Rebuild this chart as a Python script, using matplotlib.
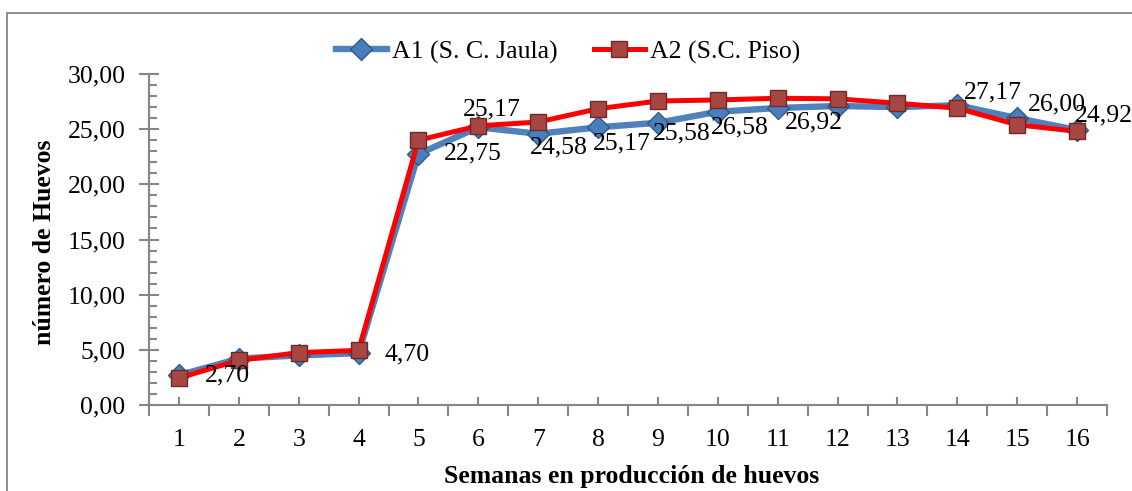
import matplotlib
matplotlib.use("Agg")
import matplotlib.pyplot as plt
from matplotlib.patches import Rectangle
from matplotlib.ticker import MultipleLocator, FixedLocator, FuncFormatter

plt.rcParams['font.family'] = ['Liberation Serif', 'DejaVu Serif']

# Weekly egg counts for the two housing systems
semanas = list(range(1, 17))
a1_jaula = [2.70, 4.20, 4.50, 4.70, 22.75, 25.17, 24.58, 25.17,
            25.58, 26.58, 26.92, 27.10, 27.00, 27.17, 26.00, 24.92]
a2_piso = [2.45, 4.05, 4.75, 4.95, 24.00, 25.30, 25.65, 26.85,
           27.55, 27.65, 27.80, 27.75, 27.35, 26.90, 25.40, 24.80]

serie_a1 = "A1 (S. C. Jaula)"
serie_a2 = "A2 (S.C. Piso)"
titulo_x = "Semanas en producción de huevos"
titulo_y = "número de Huevos"

# Weeks that carry a value label for A1, with the label offset in pixels
etiquetas_a1 = {1: (26, 0, 'left'), 4: (26, -1, 'left'), 5: (25, 1, 'left'),
                6: (13, 18, 'center'), 7: (21, -14, 'center'),
                8: (24, -16, 'center'), 9: (24, -11, 'center'),
                10: (22, -16, 'center'), 11: (36, -14, 'center'),
                14: (36, 13, 'center'), 15: (40, 14, 'center'),
                16: (27, 15, 'center')}

FS = 18.5
gris = '#868686'

fig = plt.figure(figsize=(11.32, 4.91), dpi=100)
ax = fig.add_axes([149 / 1132, 1 - 405 / 491, (1107 - 149) / 1132, (405 - 74) / 491])

# outer chart border
fig.patches.append(Rectangle((7 / 1132, -0.05), 1.2, 1 - 13 / 491 + 0.05,
                             transform=fig.transFigure, fill=False,
                             edgecolor=gris, linewidth=1.3))

ax.plot(semanas, a1_jaula, color='#4F81BD', linewidth=4.6, marker='D',
        markersize=11.5, markerfacecolor='#4A7EBB', markeredgecolor='#2E5A8A',
        markeredgewidth=1.0, label=serie_a1, zorder=3)
ax.plot(semanas, a2_piso, color='#FF0000', linewidth=3.6, marker='s',
        markersize=11, markerfacecolor='#A84643', markeredgecolor='#6E2A28',
        markeredgewidth=1.0, label=serie_a2, zorder=4)

for semana, (dx, dy, ha) in etiquetas_a1.items():
    valor = a1_jaula[semana - 1]
    ax.annotate(f"{valor:.2f}".replace('.', ','), (semana, valor),
                xytext=(dx * 0.72, dy * 0.72), textcoords='offset points',
                ha=ha, va='center', fontsize=FS, zorder=6)

ax.set_xlim(0.5, 16.5)
ax.set_ylim(0, 30)

for lado in ('top', 'right'):
    ax.spines[lado].set_visible(False)
for lado in ('left', 'bottom'):
    ax.spines[lado].set_color(gris)
    ax.spines[lado].set_linewidth(1.5)

ax.yaxis.set_major_locator(MultipleLocator(5))
ax.yaxis.set_minor_locator(MultipleLocator(1))
ax.yaxis.set_major_formatter(FuncFormatter(lambda v, p: f"{v:.2f}".replace('.', ',')))
ax.tick_params(axis='y', which='major', direction='inout', length=14, width=1.5,
               color=gris, labelsize=FS, pad=10)
ax.tick_params(axis='y', which='minor', direction='in', length=6, width=1.5, color=gris)

# labels sit at week centres, tick marks at the category boundaries
ax.xaxis.set_major_locator(FixedLocator([s - 0.5 for s in semanas] + [16.5]))
ax.xaxis.set_major_formatter(FuncFormatter(lambda v, p: ""))
ax.xaxis.set_minor_locator(FixedLocator(semanas))
ax.xaxis.set_minor_formatter(FuncFormatter(lambda v, p: f"{int(round(v))}"))
ax.tick_params(axis='x', which='major', direction='out', length=8, width=1.5, color=gris)
ax.tick_params(axis='x', which='minor', direction='in', length=6, width=1.5,
               color=gris, labelsize=FS, pad=17)

ax.set_xlabel(titulo_x, fontsize=FS, fontweight='bold', va='center')
ax.xaxis.set_label_coords((632 - 149) / 958, (405 - 476) / 331)
ax.set_ylabel(titulo_y, fontsize=FS, fontweight='bold', va='center')
ax.yaxis.set_label_coords((45 - 149) / 958, (405 - 242) / 331)

fig.legend(loc='center', bbox_to_anchor=(568 / 1132, 1 - 52 / 491), ncol=2,
           frameon=False, fontsize=FS, handlelength=2.0, handletextpad=0.2,
           columnspacing=1.4, borderaxespad=0, borderpad=0)

fig.savefig('out.png', dpi=100)
